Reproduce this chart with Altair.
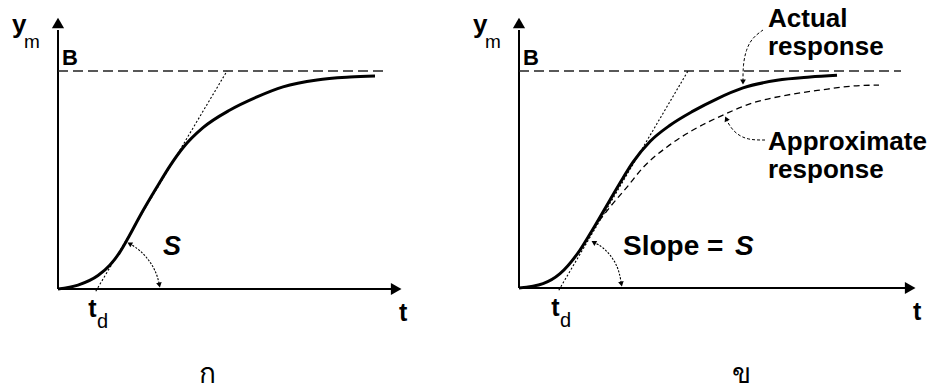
import altair as alt
import pandas as pd

# ---------------------------------------------------------------------------
# Process reaction curves: y_m as a fraction of the final value B, t in time units
# ---------------------------------------------------------------------------
# Panel ก : measured step response
left_t = [0, 0.5, 1.0, 1.3, 1.55, 1.8, 2.05, 2.475, 2.8, 3.125, 3.625, 4.3, 4.975,
          5.625, 6.475, 7.3, 7.925]
left_y = [0, 0.018, 0.062, 0.110, 0.170, 0.250, 0.335, 0.468, 0.565, 0.648, 0.740,
          0.821, 0.881, 0.927, 0.959, 0.972, 0.977]

# Panel ข : actual response
right_t = [0, 0.6, 1.025, 1.525, 1.85, 2.275, 2.6, 2.85, 3.275, 3.775, 4.35, 4.95,
           5.6, 6.45, 7.275, 7.95]
right_y = [0, 0.020, 0.066, 0.175, 0.272, 0.406, 0.507, 0.580, 0.675, 0.750, 0.815,
           0.872, 0.922, 0.957, 0.972, 0.980]

# Panel ข : first-order-plus-dead-time approximation
approx_t = [1.85, 2.275, 2.7, 3.1, 3.7, 4.35, 5.1, 5.85, 6.7, 7.525, 8.525, 9.0]
approx_y = [0.272, 0.373, 0.465, 0.555, 0.650, 0.728, 0.797, 0.853, 0.889, 0.912,
            0.933, 0.935]

# Dead time t_d and the time at which the steepest tangent reaches B
td_left = 0.975
td_right = 1.025
tangent_end = 4.225
final_value = 1.0

# ---------------------------------------------------------------------------
# Annotation geometry (same data units)
# ---------------------------------------------------------------------------
arc_left = [(1.79, 0.208), (2.05, 0.179), (2.3, 0.128), (2.475, 0.069), (2.535, 0.018)]
arc_right = [(1.867, 0.211), (2.1, 0.189), (2.35, 0.138), (2.5, 0.083), (2.56, 0.018)]
lead_actual = [(6.1, 1.189), (5.825, 1.152), (5.675, 1.097), (5.6, 1.028), (5.6, 0.949)]
lead_approx = [(6.15, 0.682), (5.725, 0.682), (5.425, 0.710), (5.25, 0.751), (5.18, 0.780)]

PANEL_W, PANEL_H = 468, 392
FONT = "Liberation Sans"


def scales(origin_x, origin_y, px_t, px_y):
    xs = alt.Scale(domain=[-origin_x / px_t, (PANEL_W - origin_x) / px_t], nice=False, zero=False)
    ys = alt.Scale(domain=[-(PANEL_H - origin_y) / px_y, origin_y / px_y], nice=False, zero=False)
    return xs, ys


def line(points, xs, ys, interp="linear", **style):
    df = pd.DataFrame({"t": [p[0] for p in points], "y": [p[1] for p in points],
                       "i": list(range(len(points)))})
    kw = dict(color="black")
    kw.update(style)
    return alt.Chart(df).mark_line(interpolate=interp, **kw).encode(
        x=alt.X("t:Q", scale=xs, axis=None),
        y=alt.Y("y:Q", scale=ys, axis=None),
        order=alt.Order("i:Q"),
    )


def heads(rows, xs, ys, shape, size):
    df = pd.DataFrame(rows, columns=["t", "y", "a"])
    return alt.Chart(df).mark_point(shape=shape, filled=True, size=size, color="black",
                                    opacity=1, strokeWidth=0).encode(
        x=alt.X("t:Q", scale=xs, axis=None),
        y=alt.Y("y:Q", scale=ys, axis=None),
        angle=alt.Angle("a:Q", scale=None),
    )


def text(rows, xs, ys, **style):
    df = pd.DataFrame(rows, columns=["t", "y", "label"])
    kw = dict(align="left", baseline="alphabetic", color="black", font=FONT)
    kw.update(style)
    return alt.Chart(df).mark_text(**kw).encode(
        x=alt.X("t:Q", scale=xs, axis=None),
        y=alt.Y("y:Q", scale=ys, axis=None),
        text="label:N",
    )


def panel(curve_t, curve_y, td, arc, origin_x, origin_y, px_t, px_y,
          t_axis_end, b_end, letter, letter_t, extra):
    xs, ys = scales(origin_x, origin_y, px_t, px_y)
    y_top = (origin_y - 30) / px_y
    layers = [
        # axes with arrowheads
        line([(0, 0), (0, y_top)], xs, ys, strokeWidth=2),
        line([(0, 0), (t_axis_end - 0.3, 0)], xs, ys, strokeWidth=2),
        heads([(0, (origin_y - 23) / px_y, 0)], xs, ys, "triangle-up", 150),
        heads([(t_axis_end - 0.22, 0, 0)], xs, ys, "triangle-right", 150),
        # final value B
        line([(0, final_value), (b_end, final_value)], xs, ys,
             strokeWidth=1.5, strokeDash=[10, 5], color="#222222"),
        # steepest tangent
        line([(td - 0.03, -0.01), (tangent_end, final_value)], xs, ys,
             strokeWidth=1.1, strokeDash=[2, 2]),
        # response curve
        line(list(zip(curve_t, curve_y)), xs, ys, interp="monotone", strokeWidth=3),
        # slope angle arc
        line(arc, xs, ys, interp="basis", strokeWidth=1.1, strokeDash=[2, 1.5]),
        heads([(arc[0][0], arc[0][1], 300), (arc[-1][0], arc[-1][1], 168)],
              xs, ys, "triangle-up", 32),
        # axis labels
        text([(-1.15, (origin_y - 33) / px_y, "y")], xs, ys, fontSize=26, fontWeight="bold"),
        text([(-0.85, (origin_y - 48) / px_y, "m")], xs, ys, fontSize=19),
        text([(0.1, (origin_y - 65) / px_y, "B")], xs, ys, fontSize=22, fontWeight="bold"),
        text([(td - 0.22, -28 / px_y, "t")], xs, ys, fontSize=25, fontWeight="bold"),
        text([(td, -39 / px_y, "d")], xs, ys, fontSize=20),
        text([(t_axis_end - 0.15, -32 / px_y, "t")], xs, ys, fontSize=25, fontWeight="bold"),
        text([(letter_t, -(383 - origin_y) / px_y, letter)], xs, ys, fontSize=28,
             align="center", font="Noto Sans"),
    ]
    layers += extra(xs, ys)
    return alt.layer(*layers).properties(width=PANEL_W, height=PANEL_H)


def extra_left(xs, ys):
    return [text([(2.625, 0.156, "S")], xs, ys, fontSize=27, fontWeight="bold",
                 fontStyle="italic")]


def extra_right(xs, ys):
    return [
        line(list(zip(approx_t, approx_y)), xs, ys, interp="monotone",
             strokeWidth=1.3, strokeDash=[6, 4]),
        line(lead_actual, xs, ys, interp="basis", strokeWidth=1, strokeDash=[3, 2]),
        line(lead_approx, xs, ys, interp="basis", strokeWidth=1, strokeDash=[3, 2]),
        heads([(lead_actual[-1][0], lead_actual[-1][1], 180),
               (lead_approx[-1][0], lead_approx[-1][1], 336)], xs, ys, "triangle-up", 32),
        text([(2.6, 0.152, "Slope"), (4.7, 0.152, "=")], xs, ys, fontSize=28,
             fontWeight="bold"),
        text([(5.4, 0.152, "S")], xs, ys, fontSize=28, fontWeight="bold", fontStyle="italic"),
        text([(6.225, 1.203, "Actual"), (6.225, 1.074, "response"),
              (6.225, 0.636, "Approximate"), (6.225, 0.507, "response")],
             xs, ys, fontSize=26, fontWeight="bold"),
    ]


left = panel(left_t, left_y, td_left, arc_left, 58, 289, 40, 218,
             8.675, 8.175, "ก", 3.725, extra_left)
right = panel(right_t, right_y, td_right, arc_right, 51, 288, 40, 217,
              10.0, 9.55, "ข", 5.55, extra_right)

chart = alt.hconcat(left, right, spacing=0).properties(
    padding=0, background="white"
).configure_view(stroke=None)

chart.save("out.html", embed_options={"renderer": "svg", "actions": False})
